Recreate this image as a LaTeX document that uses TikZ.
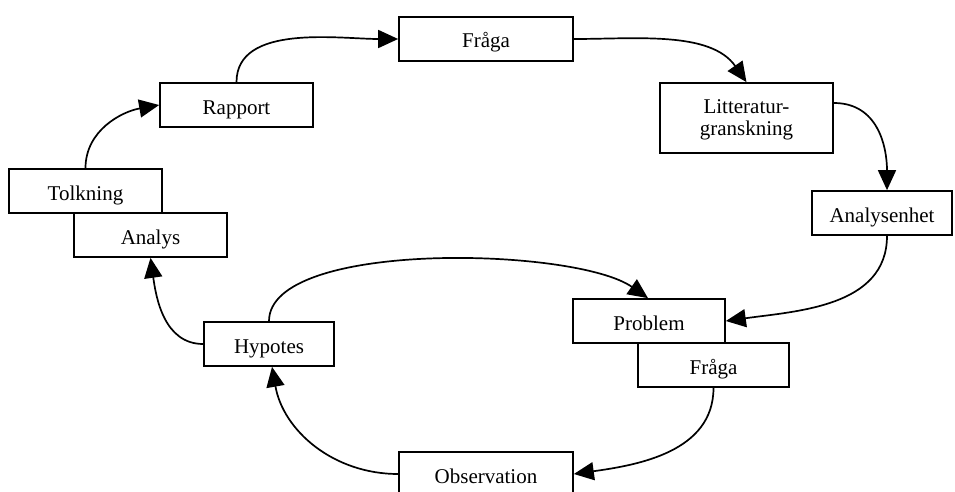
\documentclass[tikz,border=0pt]{standalone}
\usepackage{fontspec}
\setmainfont{Liberation Serif}
\usetikzlibrary{arrows.meta}
\begin{document}
\begin{tikzpicture}[x=1pt,y=-1pt,
  basebox/.style={draw,line width=1.7pt,fill=white,rectangle,inner sep=0pt,
    font=\fontsize{21}{21}\selectfont},
  box/.style={basebox,minimum height=44pt,text height=18pt,text depth=0pt},
  conn/.style={line width=1.7pt,-{Triangle[length=20pt,width=18pt]}}]
\useasboundingbox (0,0) rectangle (955,492);
% boxes (centres in px, y downward)
\node[box,minimum width=174pt] (fraga1) at (486,39) {Fråga};
\node[box,minimum width=153pt] (rapport) at (236.5,105) {Rapport};
\node[basebox,minimum width=173pt,minimum height=70pt,
  label={[font=\fontsize{21}{22}\selectfont,align=center,yshift=-2pt]center:Litteratur-\\granskning}] (lit) at (746.5,118) {};
\node[box,minimum width=140pt] (anal) at (882,213) {Analysenhet};
\node[box,minimum width=153pt] (tolk) at (85.5,191) {Tolkning};
\node[box,minimum width=153pt] (analys) at (150.5,235) {Analys};
\node[box,minimum width=130pt] (hyp) at (269,344) {Hypotes};
\node[box,minimum width=152pt] (prob) at (649,321) {Problem};
\node[box,minimum width=151pt] (fraga2) at (713.5,365) {Fråga};
\node[box,minimum width=174pt] (obs) at (486,474) {Observation};
% connectors
\draw[conn] (rapport.north) to[out=90,in=180,looseness=0.9] (fraga1.west);
\draw[conn] (fraga1.east) to[out=0,in=125,looseness=0.9] (lit.north);
\draw[conn] ([yshift=15pt]lit.east) to[out=0,in=90,looseness=1.1] ([xshift=5pt]anal.north);
\draw[conn] ([xshift=5pt]anal.south) to[out=-90,in=8,looseness=1] (prob.east);
\draw[conn] (fraga2.south) to[out=-90,in=8,looseness=1] (obs.east);
\draw[conn] (obs.west) to[out=180,in=-80,looseness=1] ([xshift=3pt]hyp.south);
\draw[conn] (hyp.north) to[out=90,in=145,out looseness=0.55,in looseness=0.6] ([xshift=-1pt]prob.north);
\draw[conn] (hyp.west) to[out=180,in=-82,looseness=1] (analys.south);
\draw[conn] (tolk.north) to[out=90,in=190,looseness=1] (rapport.west);
\end{tikzpicture}
\end{document}
